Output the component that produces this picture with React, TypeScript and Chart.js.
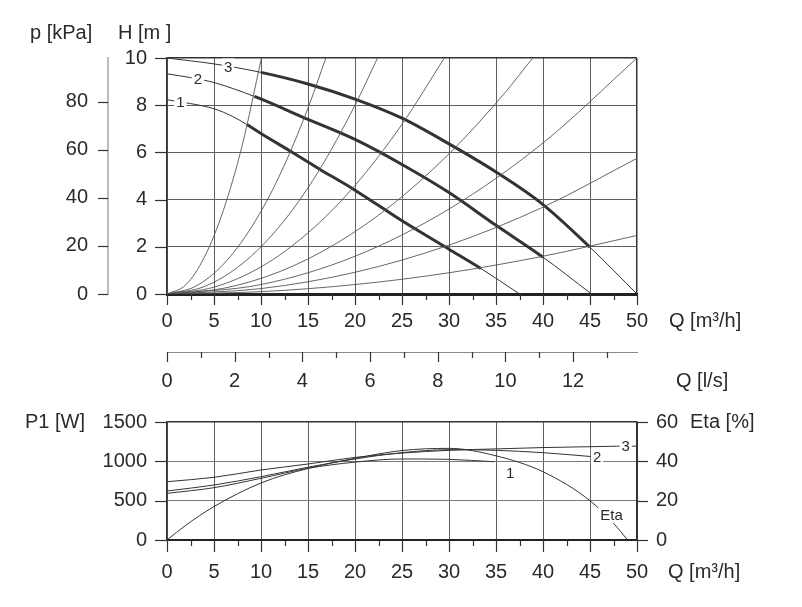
import React, { useEffect, useRef } from 'react';
import { Chart, registerables } from 'chart.js';

Chart.register(...registerables);

const FONT = "'Liberation Sans', Arial, Helvetica, sans-serif";
const INK = '#2a2a2a';
const GRID = '#5e5e5e';

// ---------- Top chart: H [m] vs Q [m3/h] ----------
const Q_MAX = 50;
const H_MAX = 10;
const KPA_MAX = 98.1; // 10 m of water
const LS_MAX = 50 / 3.6; // 50 m3/h in l/s

// Pump curves (speed 1, 2, 3)
const speed1Q = [0, 2.5, 5, 7, 8.5, 10, 13, 16.2, 20, 25, 30, 33.4, 37.5];
const speed1H = [8.23, 8.07, 7.85, 7.52, 7.18, 6.8, 6.08, 5.3, 4.4, 3.1, 1.9, 1.08, 0];
const speed1Thick = [8.5, 33.4];

const speed2Q = [0, 2.5, 5, 9.3, 15, 20, 25, 30, 35, 40, 45];
const speed2H = [9.33, 9.17, 8.96, 8.37, 7.4, 6.55, 5.49, 4.3, 2.91, 1.56, 0.05];
const speed2Thick = [9.3, 40];

const speed3Q = [0, 2.5, 5, 10, 15, 20, 25, 30, 35, 40, 45, 50];
const speed3H = [10, 9.88, 9.75, 9.39, 8.9, 8.26, 7.45, 6.36, 5.17, 3.79, 1.98, 0];
const speed3Thick = [10, 45];

// System (pipe) curves
const sys1Q = [0, 2, 4, 6, 8, 10.05];
const sys1H = [0, 0.39, 1.58, 3.55, 6.3, 10];
const sys2Q = [0, 3, 6, 9, 12, 15, 16.9];
const sys2H = [0, 0.32, 1.26, 2.84, 5.04, 7.88, 10];
const sys3Q = [0, 4, 8, 12, 16, 20, 22.4];
const sys3H = [0, 0.32, 1.28, 2.88, 5.12, 8.0, 10];
const sys4Q = [0, 5, 10, 15, 20, 25, 29.5];
const sys4H = [0, 0.29, 1.15, 2.59, 4.6, 7.19, 10];
const sys5Q = [0, 6, 12, 18, 24, 30, 36, 38.9];
const sys5H = [0, 0.24, 0.95, 2.14, 3.8, 5.94, 8.55, 10];
const sys6Q = [0, 10, 20, 30, 40, 50];
const sys6H = [0, 0.4, 1.6, 3.6, 6.4, 10];
const sys7Q = [0, 10, 20, 30, 40, 50];
const sys7H = [0, 0.23, 0.92, 2.07, 3.68, 5.75];
const sys8Q = [0, 10, 20, 30, 40, 50];
const sys8H = [0, 0.1, 0.4, 0.9, 1.6, 2.48];

const topLabelText = ['1', '2', '3'];
const topLabelQ = [1.43, 3.3, 6.5];

// ---------- Bottom chart: P1 [W] and Eta [%] vs Q ----------
const P_MAX = 1500;
const ETA_MAX = 60;

const p1Speed1Q = [0, 5, 10, 15, 20, 25, 30, 34.8];
const p1Speed1W = [593, 665, 784, 911, 990, 1030, 1025, 995];
const p1Speed2Q = [0, 5, 10, 15, 20, 25, 30, 35, 40, 45.3];
const p1Speed2W = [623, 699, 805, 925, 1030, 1110, 1148, 1140, 1110, 1059];
const p1Speed3Q = [0, 5, 10, 15, 20, 25, 30, 35, 40, 45, 47.8, 50];
const p1Speed3W = [741, 797, 890, 966, 1050, 1105, 1140, 1158, 1175, 1186, 1192, 1193];
const etaQ = [0, 2, 5, 10, 15, 20, 25, 30, 35, 40, 45, 47.5, 49];
const etaPct = [0, 7.5, 17, 29, 36.4, 41.5, 45.5, 46.6, 42.8, 34.7, 20, 8.5, 0];

const bottomLabelText = ['1', '2', '3', 'Eta'];
const bottomLabelQ = [36.5, 45.75, 48.8, 47.3];
const bottomLabelV = [850, 1059, 1192, 12.7];
const bottomLabelAxis = ['y', 'y', 'y', 'y1'];
const bottomLabelBg = [false, true, true, true];

// ---------- helpers ----------
function interp(xs: number[], ys: number[], x: number) {
  if (x <= xs[0]) return ys[0];
  for (let i = 1; i < xs.length; i++) {
    if (x <= xs[i]) {
      const t = (x - xs[i - 1]) / (xs[i] - xs[i - 1]);
      return ys[i - 1] + t * (ys[i] - ys[i - 1]);
    }
  }
  return ys[ys.length - 1];
}

function lineDs(qs: number[], vs: number[], extra: any = {}) {
  return {
    data: qs.map((x, i) => ({ x, y: vs[i] })),
    borderColor: '#333',
    borderWidth: 1,
    pointRadius: 0,
    fill: false,
    cubicInterpolationMode: 'monotone',
    ...extra,
  };
}

function thickSegment(range: number[]) {
  return {
    borderWidth: (c: any) =>
      c.p0.parsed.x >= range[0] - 1e-9 && c.p1.parsed.x <= range[1] + 1e-9 ? 3 : 1,
  };
}

type TickSpec = { id: string; side: 'bottom' | 'left' | 'right'; major: (v: number) => boolean; majorLen: number; minorLen: number };

function ticksPlugin(specs: TickSpec[]) {
  return {
    id: 'customTicks',
    afterDraw(chart: any) {
      const ctx = chart.ctx;
      ctx.save();
      ctx.strokeStyle = '#333';
      ctx.lineWidth = 1.2;
      for (const s of specs) {
        const sc = chart.scales[s.id];
        for (const t of sc.ticks) {
          const len = s.major(t.value) ? s.majorLen : s.minorLen;
          const p = Math.round(sc.getPixelForValue(t.value)) + 0.5;
          ctx.beginPath();
          if (s.side === 'bottom') {
            ctx.moveTo(p, sc.top);
            ctx.lineTo(p, sc.top + len);
          } else if (s.side === 'left') {
            ctx.moveTo(sc.right, p);
            ctx.lineTo(sc.right - len, p);
          } else {
            ctx.moveTo(sc.left, p);
            ctx.lineTo(sc.left + len, p);
          }
          ctx.stroke();
        }
      }
      ctx.restore();
    },
  };
}

type TextItem = { text: string; x: number; y: number; size: number };

function textPlugin(items: TextItem[]) {
  return {
    id: 'titles',
    afterDraw(chart: any) {
      const ctx = chart.ctx;
      ctx.save();
      ctx.fillStyle = INK;
      ctx.textBaseline = 'middle';
      ctx.textAlign = 'left';
      for (const it of items) {
        ctx.font = `${it.size}px ${FONT}`;
        ctx.fillText(it.text, it.x, it.y);
      }
      ctx.restore();
    },
  };
}

type CurveLabel = { text: string; q: number; v: number; axis: string; bg: boolean };

function curveLabelPlugin(labels: CurveLabel[]) {
  return {
    id: 'curveLabels',
    afterDatasetsDraw(chart: any) {
      const ctx = chart.ctx;
      ctx.save();
      ctx.font = `15px ${FONT}`;
      ctx.textBaseline = 'middle';
      ctx.textAlign = 'center';
      for (const l of labels) {
        const x = chart.scales.x.getPixelForValue(l.q);
        const y = chart.scales[l.axis].getPixelForValue(l.v);
        const w = ctx.measureText(l.text).width;
        if (l.bg) {
          ctx.fillStyle = '#ffffff';
          ctx.fillRect(x - w / 2 - 2, y - 8, w + 4, 16);
        }
        ctx.fillStyle = INK;
        ctx.fillText(l.text, x, y + 1);
      }
      ctx.restore();
    },
  };
}

const tickFont = { family: FONT, size: 20 };

function fitWidth(w: number) {
  return (s: any) => {
    s.width = w;
    s.paddingTop = 0;
    s.paddingBottom = 0;
  };
}
function fitHeight(h: number) {
  return (s: any) => {
    s.height = h;
    s.paddingLeft = 0;
    s.paddingRight = 0;
  };
}

function TopChart() {
  const ref = useRef<HTMLCanvasElement>(null);
  useEffect(() => {
    const sysQ = [sys1Q, sys2Q, sys3Q, sys4Q, sys5Q, sys6Q, sys7Q, sys8Q];
    const sysH = [sys1H, sys2H, sys3H, sys4H, sys5H, sys6H, sys7H, sys8H];
    const datasets: any[] = sysQ.map((q, i) => lineDs(q, sysH[i], { borderColor: '#555', borderWidth: 0.9 }));
    datasets.push(lineDs(speed1Q, speed1H, { segment: thickSegment(speed1Thick) }));
    datasets.push(lineDs(speed2Q, speed2H, { segment: thickSegment(speed2Thick) }));
    datasets.push(lineDs(speed3Q, speed3H, { segment: thickSegment(speed3Thick) }));

    const curves = [
      [speed1Q, speed1H],
      [speed2Q, speed2H],
      [speed3Q, speed3H],
    ];
    const labels: CurveLabel[] = topLabelText.map((t, i) => ({
      text: t,
      q: topLabelQ[i],
      v: interp(curves[i][0], curves[i][1], topLabelQ[i]),
      axis: 'y',
      bg: true,
    }));

    const chart = new Chart(ref.current as HTMLCanvasElement, {
      type: 'line',
      data: { datasets },
      options: {
        animation: false,
        responsive: false,
        devicePixelRatio: 1,
        events: [],
        layout: { padding: { top: 50, right: 157, left: 0, bottom: 0 } },
        plugins: { legend: { display: false }, tooltip: { enabled: false } },
        scales: {
          x: {
            type: 'linear',
            position: 'bottom',
            min: 0,
            max: Q_MAX,
            ticks: {
              stepSize: 2.5,
              autoSkip: false,
              maxRotation: 0,
              padding: 15,
              font: tickFont,
              color: INK,
              callback: (v: any) => (v % 5 === 0 ? String(v) : ''),
            },
            grid: {
              drawTicks: false,
              color: (c: any) =>
                c.tick && c.tick.value % 5 === 0 ? (c.tick.value === Q_MAX ? '#333' : GRID) : 'rgba(0,0,0,0)',
              lineWidth: (c: any) => (c.tick && c.tick.value === Q_MAX ? 1.5 : 1),
            },
            border: { color: '#222', width: 3 },
            afterFit: fitHeight(58),
          },
          xls: {
            type: 'linear',
            position: 'bottom',
            weight: 1,
            min: 0,
            max: LS_MAX,
            ticks: {
              stepSize: 1,
              includeBounds: false,
              autoSkip: false,
              maxRotation: 0,
              padding: 17,
              font: tickFont,
              color: INK,
              callback: (v: any) => (v % 2 === 0 && v <= 12 ? String(v) : ''),
            },
            grid: { display: false, drawTicks: false },
            border: { color: '#8a8a8a', width: 1 },
            afterFit: fitHeight(50),
          },
          y: {
            type: 'linear',
            position: 'left',
            min: 0,
            max: H_MAX,
            ticks: {
              stepSize: 1,
              padding: 20,
              font: tickFont,
              color: INK,
              callback: (v: any) => (v % 2 === 0 ? String(v) : ''),
            },
            grid: {
              drawTicks: false,
              color: (c: any) =>
                c.tick && c.tick.value % 2 === 0 ? (c.tick.value === H_MAX ? '#333' : GRID) : 'rgba(0,0,0,0)',
              lineWidth: (c: any) => (c.tick && c.tick.value === H_MAX ? 1.5 : 1),
            },
            border: { color: '#333', width: 1.5 },
            afterFit: fitWidth(59),
          },
          ykpa: {
            type: 'linear',
            position: 'left',
            weight: 1,
            min: 0,
            max: KPA_MAX,
            ticks: {
              stepSize: 10,
              includeBounds: false,
              padding: 20,
              font: tickFont,
              color: INK,
              callback: (v: any) => (v % 20 === 0 ? String(v) : ''),
            },
            grid: { display: false, drawTicks: false },
            border: { color: '#bdbdbd', width: 2 },
            afterFit: fitWidth(100),
          },
        },
      } as any,
      plugins: [
        ticksPlugin([
          { id: 'x', side: 'bottom', major: (v) => v % 5 === 0, majorLen: 11, minorLen: 6 },
          { id: 'xls', side: 'bottom', major: (v) => v % 2 === 0, majorLen: 10, minorLen: 6 },
          { id: 'y', side: 'left', major: (v) => v % 2 === 0, majorLen: 12, minorLen: 5 },
          { id: 'ykpa', side: 'left', major: (v) => v % 20 === 0, majorLen: 10, minorLen: 5 },
        ]),
        curveLabelPlugin(labels),
        textPlugin([
          { text: 'p [kPa]', x: 22, y: 25, size: 20 },
          { text: 'H [m ]', x: 110, y: 25, size: 20 },
          { text: 'Q [m³/h]', x: 661, y: 313, size: 20 },
          { text: 'Q [l/s]', x: 668, y: 373, size: 20 },
        ]),
      ],
    });
    return () => chart.destroy();
  }, []);
  return <canvas ref={ref} width={786} height={394} style={{ display: 'block' }} />;
}

function BottomChart() {
  const ref = useRef<HTMLCanvasElement>(null);
  useEffect(() => {
    const datasets: any[] = [
      lineDs(p1Speed1Q, p1Speed1W, { yAxisID: 'y' }),
      lineDs(p1Speed2Q, p1Speed2W, { yAxisID: 'y' }),
      lineDs(p1Speed3Q, p1Speed3W, { yAxisID: 'y' }),
      lineDs(etaQ, etaPct, { yAxisID: 'y1' }),
    ];
    const labels: CurveLabel[] = bottomLabelText.map((t, i) => ({
      text: t,
      q: bottomLabelQ[i],
      v: bottomLabelV[i],
      axis: bottomLabelAxis[i],
      bg: bottomLabelBg[i],
    }));
    const chart = new Chart(ref.current as HTMLCanvasElement, {
      type: 'line',
      data: { datasets },
      options: {
        animation: false,
        responsive: false,
        devicePixelRatio: 1,
        events: [],
        layout: { padding: { top: 20, right: 0, left: 0, bottom: 0 } },
        plugins: { legend: { display: false }, tooltip: { enabled: false } },
        scales: {
          x: {
            type: 'linear',
            position: 'bottom',
            min: 0,
            max: Q_MAX,
            ticks: {
              stepSize: 2.5,
              autoSkip: false,
              maxRotation: 0,
              padding: 20,
              font: tickFont,
              color: INK,
              callback: (v: any) => (v % 5 === 0 ? String(v) : ''),
            },
            grid: {
              drawTicks: false,
              color: (c: any) =>
                c.tick && c.tick.value % 5 === 0 ? (c.tick.value === Q_MAX ? '#333' : GRID) : 'rgba(0,0,0,0)',
              lineWidth: 1,
            },
            border: { color: '#222', width: 2 },
            afterFit: fitHeight(57),
          },
          y: {
            type: 'linear',
            position: 'left',
            min: 0,
            max: P_MAX,
            ticks: {
              stepSize: 250,
              padding: 20,
              font: tickFont,
              color: INK,
              callback: (v: any) => (v % 500 === 0 ? String(v) : ''),
            },
            grid: {
              drawTicks: false,
              color: (c: any) =>
                c.tick && c.tick.value % 500 === 0 ? (c.tick.value === P_MAX ? '#333' : '#7a7a7a') : 'rgba(0,0,0,0)',
              lineWidth: (c: any) => (c.tick && c.tick.value === P_MAX ? 1.5 : 1),
            },
            border: { color: '#333', width: 1.5 },
            afterFit: fitWidth(159),
          },
          y1: {
            type: 'linear',
            position: 'right',
            min: 0,
            max: ETA_MAX,
            ticks: {
              stepSize: 10,
              padding: 19,
              font: tickFont,
              color: INK,
              callback: (v: any) => (v % 20 === 0 ? String(v) : ''),
            },
            grid: { drawOnChartArea: false, drawTicks: false },
            border: { color: '#333', width: 1.5 },
            afterFit: fitWidth(157),
          },
        },
      } as any,
      plugins: [
        ticksPlugin([
          { id: 'x', side: 'bottom', major: (v) => v % 5 === 0, majorLen: 12, minorLen: 6 },
          { id: 'y', side: 'left', major: (v) => v % 500 === 0, majorLen: 12, minorLen: 5 },
          { id: 'y1', side: 'right', major: (v) => v % 20 === 0, majorLen: 11, minorLen: 6 },
        ]),
        curveLabelPlugin(labels),
        textPlugin([
          { text: 'P1 [W]', x: 17, y: 20, size: 20 },
          { text: 'Eta [%]', x: 682, y: 20, size: 20 },
          { text: 'Q [m³/h]', x: 660, y: 170, size: 20 },
        ]),
      ],
    });
    return () => chart.destroy();
  }, []);
  return <canvas ref={ref} width={786} height={195} style={{ display: 'block' }} />;
}

export default function App() {
  return (
    <div style={{ width: 786, background: '#fff' }}>
      <TopChart />
      <BottomChart />
    </div>
  );
}
